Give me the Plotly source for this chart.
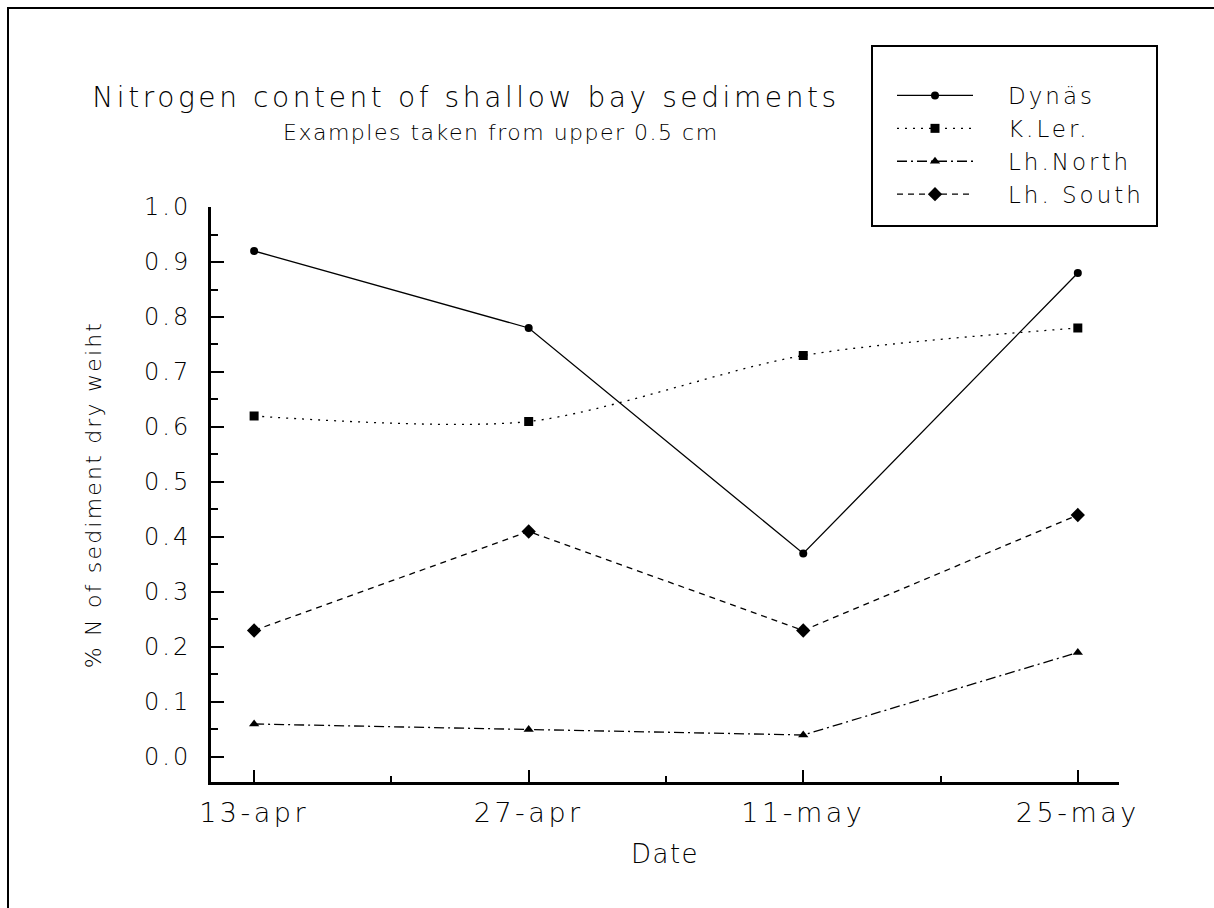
import plotly.graph_objects as go

# Sampling dates and % N values per site
dates = ["13-apr", "27-apr", "11-may", "25-may"]
dynas = [0.92, 0.78, 0.37, 0.88]
k_ler = [0.62, 0.61, 0.73, 0.78]
lh_north = [0.06, 0.05, 0.04, 0.19]
lh_south = [0.23, 0.41, 0.23, 0.44]

series_names = ["Dynäs", "K.Ler.", "Lh.North", "Lh. South"]
y_ticks = [0.0, 0.1, 0.2, 0.3, 0.4, 0.5, 0.6, 0.7, 0.8, 0.9, 1.0]

FONT = "DejaVu Sans"
x_pos = list(range(len(dates)))

styles = [
    dict(dash="solid", symbol="circle", size=8, shape="linear"),
    dict(dash="2px,6px", symbol="square", size=9, shape="spline"),
    dict(dash="10px,4px,2px,4px", symbol="triangle-up", size=9, shape="linear"),
    dict(dash="6px,5px", symbol="diamond", size=11, shape="linear"),
]

fig = go.Figure()
for name, vals, st in zip(series_names, [dynas, k_ler, lh_north, lh_south], styles):
    fig.add_trace(go.Scatter(
        x=x_pos, y=vals, name=name, mode="lines+markers",
        line=dict(color="black", width=1.3, dash=st["dash"], shape=st["shape"], smoothing=0.8),
        marker=dict(color="black", symbol=st["symbol"], size=st["size"]),
    ))

fig.update_layout(
    width=1214, height=908,
    margin=dict(l=211, r=95, t=207, b=126),
    paper_bgcolor="white", plot_bgcolor="white",
    font=dict(family=FONT, color="black", weight=200),
    showlegend=True,
    legend=dict(
        x=(892 - 211) / 908, y=(782 - 74) / 575, xanchor="left", yanchor="top",
        bgcolor="rgba(0,0,0,0)", borderwidth=0,
        font=dict(size=23, family=FONT, weight=200),
        tracegroupgap=0, itemwidth=76,
    ),
    xaxis=dict(
        range=[-0.157, 3.15], tickvals=x_pos, ticktext=dates,
        showgrid=False, zeroline=False,
        showline=True, linecolor="black", linewidth=3,
        ticks="inside", ticklen=12, tickwidth=1.5, tickcolor="black",
        minor=dict(tickvals=[0.5, 1.5, 2.5], ticks="inside", ticklen=6, tickwidth=1.5, tickcolor="black"),
        tickfont=dict(size=27, family=FONT, weight=200),
        ticklabelstandoff=5,
        title=dict(text="Date", font=dict(size=26, family=FONT, weight=200), standoff=18),
    ),
    yaxis=dict(
        range=[-0.0455, 1.0], tickvals=y_ticks,
        ticktext=[f"{v:.1f}" for v in y_ticks],
        showgrid=False, zeroline=False,
        showline=True, linecolor="black", linewidth=3,
        ticks="inside", ticklen=13, tickwidth=1.5, tickcolor="black",
        minor=dict(dtick=0.05, tick0=0.05, ticks="inside", ticklen=7, tickwidth=1.5, tickcolor="black"),
        tickfont=dict(size=24, family=FONT, weight=200),
        ticklabelstandoff=12,
        title=dict(text="% N of sediment dry weiht", font=dict(size=22, family=FONT, weight=200), standoff=46),
    ),
    annotations=[
        dict(text="Nitrogen content of shallow bay sediments", xref="paper", yref="paper",
             x=(466 - 211) / 908, y=(782 - 97) / 575, xanchor="center", yanchor="middle", showarrow=False,
             font=dict(size=28, family=FONT, weight=200)),
        dict(text="Examples taken from upper 0.5 cm", xref="paper", yref="paper",
             x=(501 - 211) / 908, y=(782 - 132) / 575, xanchor="center", yanchor="middle", showarrow=False,
             font=dict(size=22, family=FONT, weight=200)),
    ],
    shapes=[
        # legend box
        dict(type="rect", xref="paper", yref="paper",
             x0=(872 - 211) / 908, x1=(1157 - 211) / 908,
             y0=(782 - 226) / 575, y1=(782 - 46) / 575,
             line=dict(color="black", width=2), fillcolor="rgba(0,0,0,0)", layer="below"),
        # outer frame, running past the right and bottom edges of the page
        dict(type="rect", xref="paper", yref="paper",
             x0=(8 - 211) / 908, x1=1.3, y0=-0.5, y1=(782 - 8) / 575,
             line=dict(color="black", width=2), fillcolor="rgba(0,0,0,0)", layer="below"),
    ],
)

# Wider character spacing for the thin plotter-style lettering,
# plus a wider gap between legend samples and their labels
spacing_js = """
var gd = document.getElementById('{plot_id}');
function sp(sel, v) { gd.querySelectorAll(sel).forEach(function (t) { t.style.letterSpacing = v; }); }
function applySpacing() {
  var ann = gd.querySelectorAll('.annotation-text');
  if (ann[0]) ann[0].style.letterSpacing = '3.6px';
  if (ann[1]) ann[1].style.letterSpacing = '1.5px';
  sp('.xtick text', '3.5px');
  sp('.ytick text', '3px');
  sp('.ytitle', '2.2px');
  sp('.xtitle', '1.5px');
  sp('.legendtext', '3px');
  gd.querySelectorAll('.legendtext').forEach(function (t) { t.setAttribute('dx', '30'); });
  gd.querySelectorAll('.legend, .legend *').forEach(function (el) {
    if (el.hasAttribute('clip-path')) el.removeAttribute('clip-path');
  });
}
applySpacing();
gd.on('plotly_afterplot', applySpacing);
"""

fig.write_html("out.html", post_script=spacing_js)
